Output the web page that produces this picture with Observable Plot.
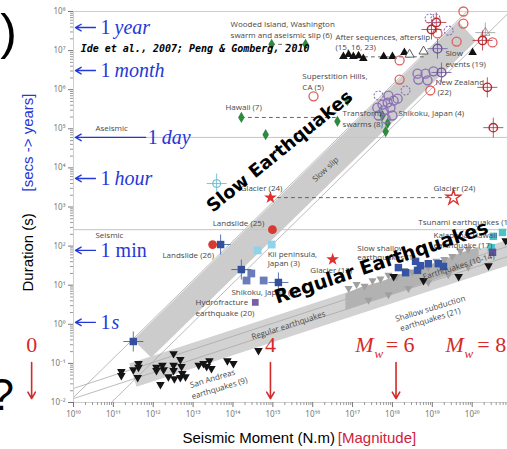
<!DOCTYPE html>
<html><head><meta charset="utf-8">
<script src="https://cdn.jsdelivr.net/npm/d3@7"></script>
<script src="https://cdn.jsdelivr.net/npm/@observablehq/plot@0.6"></script>
<style>body{margin:0;background:#fff}svg{display:block}</style>
</head><body><div id="chart"></div>
<script>
// ---------- data (log10 of seismic moment N.m, log10 of duration s) ----------
const xTickExps = [10,11,12,13,14,15,16,17,18,19,20];
const yTickExps = [-2,-1,0,1,2,3,4,5,6,7,8];
const slowBand = [[11.5,-0.4],[19.65,7.75],[20.1,7.25],[11.95,-0.85]];
const regBand = [[11.4,-1.0],[21.3,2.3],[21.3,1.64],[11.58,-1.6]];
const shallowCloud = [[16.82,0.78],[17.2,0.95],[17.7,1.08],[18.2,1.28],[18.7,1.45],[19.2,1.62],[19.71,1.83],[20.16,1.98],[20.16,1.6],[19.71,1.4],[19.2,1.2],[18.7,1.02],[18.2,0.84],[17.7,0.66],[17.2,0.5],[16.82,0.36]];
const refLines = [
  [[10,-1.87],[20.2,8.33]],
  [[10.95,-2],[20.95,8]],
  [[10,-1.64],[21,2.03]],
  [[10,-1.9],[21,1.77]]
];
const aseismicLevel = 4.78, seismicLevel = 2.42;
const blackDown = [[11.2,-1.21],[11.2,-1.31],[11.5,-1.16],[11.63,-1.0],[11.63,-1.1],[11.61,-1.36],[12.08,-1.1],[12.08,-1.18],[12.18,-1.54],[12.23,-1.05],[12.26,-1.16],[12.38,-1.34],[12.51,-0.75],[12.51,-1.05],[12.51,-1.18],[12.53,-1.39],[12.68,-0.9],[12.71,-1.08],[12.73,-1.26],[12.81,-1.34],[12.68,-1.36],[13.14,-1.05],[13.26,-1.0],[13.34,-1.08],[13.41,-0.93],[13.46,-1.13],[13.86,-0.93],[14.01,-1.0],[14.64,-0.67],[18.03,1.22],[18.78,1.12],[19.66,1.22],[20.41,1.5],[20.84,2.14]];
const grayDown = [[16.9,0.92],[17.1,1.02],[17.3,0.98],[17.5,1.12],[17.7,1.16],[17.9,1.26],[18.1,1.22],[18.3,1.38],[18.5,1.34],[18.7,1.5],[18.9,1.46],[19.1,1.62],[19.3,1.66],[19.5,1.74],[19.7,1.88],[19.9,1.92],[17.4,0.62],[17.9,0.76],[18.4,0.92],[18.9,1.08],[19.4,1.27],[19.9,1.47]];
const slowShallowSq = [[18.15,1.45],[18.33,1.32],[18.58,1.61],[18.7,1.5],[18.63,1.38],[18.9,1.55],[19.15,1.55],[19.28,1.48]];
const tsunamiSq = [[20.53,2.25],[20.76,2.35],[20.48,1.96]];
const hawaiiEqSq = [[20.51,1.84]];
const kiiSq = [[14.62,1.89],[14.97,2.04]];
const shikokuSq = [[14.46,1.3],[14.34,1.12],[14.77,1.12]];
const crossedBlueSq = [[14.21,1.4],[15.14,1.07],[13.69,2.04],[11.5,-0.44]];
const hydroSq = [[14.56,0.56]];
const landslideCirc = [[13.49,2.04],[14.99,2.42]];
const glacierStar = [[14.94,3.24],[16.5,1.66]];
const glacierOpenStar = [[19.53,3.24]];
const cyanTarget = [[13.59,3.6]];
const greenDiamond = [[14.21,5.29],[14.82,4.85],[14.97,7.16],[15.82,7.16],[16.87,5.72],[16.62,5.19],[17.75,5.34],[17.88,5.14],[17.83,4.93]];
const afterslipTri = [[16.77,6.85],[16.9,6.9],[17.02,6.85],[17.15,6.87],[17.27,6.8],[17.78,6.85],[18.0,6.85],[18.3,6.95],[20.01,6.95]];
const afterslipOpen = [[18.43,6.9],[18.78,6.98]];
const grayOpenTri = [[20.33,7.46]];
const redCirc = [[16.02,5.83],[18.18,6.75],[18.18,6.26],[18.95,5.98],[19.78,8.0],[19.78,7.69],[19.61,7.23],[19.13,7.44],[20.51,7.21]];
const redTarget = [[19.1,7.72],[18.98,7.54],[20.26,7.26],[20.38,6.06],[20.53,5.03]];
const purpleCirc = [[18.63,6.41],[18.83,6.41],[19.03,6.47],[18.65,6.26],[18.88,6.24],[17.9,5.85],[18.03,5.72],[17.88,5.67],[17.75,5.62],[17.62,5.54],[17.95,5.54],[17.78,5.47],[18.0,5.34],[17.65,5.34],[17.83,5.26],[18.13,5.77]];
const purpleTarget = [[19.13,7.05],[19.23,6.44]];
const purpleDashed = [[18.93,7.82],[19.08,7.82],[19.41,7.51],[17.65,5.85],[18.33,5.98]];
const dashedLinks = [
  [[14.21,5.29],[16.62,5.29]],
  [[14.97,7.16],[15.82,7.16]],
  [[16.77,6.84],[18.8,6.84]],
  [[14.94,3.24],[19.53,3.24]]
];
const smallLabels = [
  ["Wooded Island, Washington",13.94,7.67],["swarm and aseismic slip (6)",13.94,7.39],
  ["After sequences, afterslip",16.57,7.34],["(15, 16, 23)",16.57,7.08],
  ["Superstition Hills,",15.74,6.34],["CA (5)",15.74,6.06],
  ["Slow",19.33,6.93],["events (19)",19.33,6.64],
  ["New Zealand",19.08,6.18],["(22)",19.13,5.93],
  ["Shikoku, Japan (4)",18.15,5.39],["Transform",16.75,5.39],["swarms (8)",16.75,5.11],
  ["Hawaii (7)",13.81,5.54],["Glacier (24)",14.19,3.47],["Glacier (24)",19.03,3.47],
  ["Landslide (25)",13.49,2.58],["Landslide (26)",12.23,1.76],
  ["Kii peninsula,",14.87,1.79],["Japan (3)",14.87,1.55],["Glacier (13)",15.94,1.38],
  ["Shikoku, Japan (2)",13.96,0.81],["Hydrofracture",13.06,0.56],["earthquake (20)",13.06,0.28],
  ["Slow shallow",17.12,1.94],["earthquakes (1)",17.12,1.71],
  ["Tsunami earthquakes (19)",18.65,2.6],["Kalapana, Hawaii",19.03,2.27],["earthquake (17)",19.03,2.02],
  ["Aseismic",10.55,5.01],["Seismic",10.55,2.27]
];
const rotLabels = [
  ["Regular earthquakes",15.39,-0.03,-18],["Slow slip",16.32,3.96,-43],
  ["Shallow subduction",18.95,0.4,-17],["earthquakes (21)",18.95,0.12,-17],
  ["Earthquakes (10-14)",19.66,1.48,-17],["San Andreas",13.49,-1.39,-17],["earthquakes (9)",13.66,-1.64,-17]
];
const bigLabels = [["Slow Earthquakes",15.17,4.42,-39,18],["Regular Earthquakes",17.72,1.58,-18.5,19]];
const blueArrows = [[10.55,7.59,10.05],[10.55,6.49,10.05],[11.81,4.78,10.05],[10.55,3.73,10.05],[10.55,1.89,10.05],[10.55,0.05,10.05]];
const blueNum = [["1",10.68,7.59],["1",10.68,6.49],["1",11.86,4.78],["1",10.68,3.73],["1 min",10.68,1.89],["1",10.68,0.05]];
const blueUnit = [["year",10.68,7.59,14],["month",10.68,6.49,14],["day",11.86,4.78,14],["hour",10.68,3.73,14],["s",10.68,0.05,11]];
const redArrows = [[8.95,-0.98,-1.9],[14.94,-0.98,-1.9],[18.09,-0.98,-1.9]];
const redPlain = [["0",8.95,-0.54,"middle"],["4",14.94,-0.54,"middle"],["= 6",17.83,-0.54,"start"],["= 8",20.13,-0.54,"start"]];
const redM = [[17.07,-0.54],[19.33,-0.54]];
const redW = [[17.55,-0.54],[19.81,-0.54]];

// ---------- helpers ----------
const P = a => a.map(([m,t]) => ({x: 10 ** m, y: 10 ** t}));
const SUP = "⁻⁰¹²³⁴⁵⁶⁷⁸⁹";
const sup = s => String(s).replace(/[-0-9]/g, c => SUP["-0123456789".indexOf(c)]);
const fmt = v => "10" + sup(Math.round(Math.log10(v)));
const minor = (lo, hi) => d3.range(lo, hi).flatMap(k => d3.range(2, 10).map(j => j * 10 ** k));
const triDown = {draw(ctx, size) {
  const y = -Math.sqrt(size / (Math.sqrt(3) * 3)), s3 = Math.sqrt(3);
  ctx.moveTo(0, -2 * y); ctx.lineTo(-s3 * y, y); ctx.lineTo(s3 * y, y); ctx.closePath();
}};
const poly = pts => pts.concat([pts[0]]).map(([m,t]) => ({x: 10 ** m, y: 10 ** t}));
const lbl = a => a.map(([t,m,d,r,s]) => ({t, x: 10 ** m, y: 10 ** d, r, s}));

const BLUE = "#2438d8", RED = "#d42a2a", LG = "#474747";
const sans = "'Open Sans', sans-serif";

const marks = [
  Plot.line(poly(slowBand), {x:"x", y:"y", fill:"#cccccc", stroke:"none", clip:true}),
  Plot.line(poly(regBand), {x:"x", y:"y", fill:"#d2d2d2", stroke:"none", clip:true}),
  ...refLines.map(l => Plot.line(P(l), {x:"x", y:"y", stroke:"#a9a9a9", strokeWidth:0.8, clip:true})),
  Plot.line(poly(shallowCloud), {x:"x", y:"y", fill:"#b2b2b2", stroke:"none", clip:true}),
  Plot.ruleY([10 ** aseismicLevel, 10 ** seismicLevel], {stroke:"#c4c4c4", strokeWidth:1}),
  Plot.frame({stroke:"#cfcfcf"}),
  ...dashedLinks.map(l => Plot.line(P(l), {x:"x", y:"y", stroke:"#555", strokeWidth:0.9, strokeDasharray:"3,4"})),
  Plot.dot(P(grayDown), {x:"x", y:"y", symbol:triDown, r:3, fill:"#a0a0a0"}),
  Plot.dot(P(blackDown), {x:"x", y:"y", symbol:triDown, r:3.2, fill:"#141414"}),
  Plot.dot(P(slowShallowSq), {x:"x", y:"y", symbol:"square", r:4.2, fill:"#3554a5"}),
  Plot.dot(P(tsunamiSq), {x:"x", y:"y", symbol:"square", r:4.2, fill:"#4fc2c9"}),
  Plot.dot(P(hawaiiEqSq), {x:"x", y:"y", symbol:"square", r:4.2, fill:"#5d4f9a"}),
  Plot.dot(P(kiiSq), {x:"x", y:"y", symbol:"square", r:4.4, fill:"#8fd3ea"}),
  Plot.dot(P(shikokuSq), {x:"x", y:"y", symbol:"square", r:4.4, fill:"#6a7cba"}),
  Plot.dot(P(crossedBlueSq), {x:"x", y:"y", symbol:"square", r:4.2, fill:"#34509b"}),
  Plot.dot(P(crossedBlueSq), {x:"x", y:"y", symbol:"plus", r:6.5, stroke:"#34509b", strokeWidth:0.8}),
  Plot.dot(P(hydroSq), {x:"x", y:"y", symbol:"square", r:3.8, fill:"#7a5ea8"}),
  Plot.dot(P(landslideCirc), {x:"x", y:"y", r:4.4, fill:"#d63a30"}),
  Plot.dot(P(glacierStar), {x:"x", y:"y", symbol:"star", r:4, fill:"#e0302e"}),
  Plot.dot(P(glacierOpenStar), {x:"x", y:"y", symbol:"star", r:4.6, fill:"white", stroke:"#e0302e", strokeWidth:1.4}),
  Plot.dot(P(cyanTarget), {x:"x", y:"y", r:4, fill:"none", stroke:"#5ab6c6", strokeWidth:1}),
  Plot.dot(P(cyanTarget), {x:"x", y:"y", symbol:"plus", r:6.5, stroke:"#5ab6c6", strokeWidth:0.8}),
  Plot.dot(P(greenDiamond), {x:"x", y:"y", symbol:"diamond", r:3.4, fill:"#2e8a3e"}),
  Plot.dot(P(afterslipTri), {x:"x", y:"y", symbol:"triangle", r:3.2, fill:"#111"}),
  Plot.dot(P(afterslipOpen), {x:"x", y:"y", symbol:"triangle", r:3.4, fill:"white", stroke:"#333", strokeWidth:0.8}),
  Plot.dot(P(grayOpenTri), {x:"x", y:"y", symbol:"triangle", r:3.4, fill:"none", stroke:"#888", strokeWidth:0.8}),
  Plot.dot(P(grayOpenTri), {x:"x", y:"y", symbol:"plus", r:6.5, stroke:"#888", strokeWidth:0.7}),
  Plot.dot(P(redCirc), {x:"x", y:"y", r:4.5, fill:"none", stroke:"#e0605c", strokeWidth:1.3}),
  Plot.dot(P(redTarget), {x:"x", y:"y", r:4.2, fill:"none", stroke:"#b8262e", strokeWidth:1.4}),
  Plot.dot(P(redTarget), {x:"x", y:"y", symbol:"plus", r:6.5, stroke:"#b8262e", strokeWidth:0.8}),
  Plot.dot(P(purpleCirc), {x:"x", y:"y", r:4.5, fill:"none", stroke:"#8a6fb6", strokeWidth:1.3}),
  Plot.dot(P(purpleTarget), {x:"x", y:"y", r:4.4, fill:"none", stroke:"#6f559e", strokeWidth:1.4}),
  Plot.dot(P(purpleTarget), {x:"x", y:"y", symbol:"plus", r:6.5, stroke:"#6f559e", strokeWidth:0.8}),
  Plot.dot(P(purpleDashed), {x:"x", y:"y", r:4.5, fill:"none", stroke:"#8a6fb6", strokeWidth:1.1, strokeDasharray:"2,1.5"}),
  Plot.text(lbl(smallLabels), {x:"x", y:"y", text:"t", textAnchor:"start", fontSize:8, fill:LG, fontFamily:sans}),
  Plot.text(lbl(rotLabels), {x:"x", y:"y", text:"t", rotate:d => d.r, fontSize:8, fill:LG, fontFamily:sans}),
  ...lbl(bigLabels).map(d => Plot.text([d], {x:"x", y:"y", text:"t", rotate:d.r, fontSize:d.s, fontWeight:"bold", fill:"#000", fontFamily:"'DejaVu Sans', sans-serif"})),
  Plot.text([{t:"Ide et al., 2007; Peng & Gomberg, 2010", x:10 ** 10.18, y:10 ** 7.05}], {x:"x", y:"y", text:"t", textAnchor:"start", fontSize:10, fontWeight:"bold", fontStyle:"italic", fontFamily:"'DejaVu Sans Mono', monospace", fill:"#000"}),
  // blue time annotations
  Plot.arrow(blueArrows.map(([a,t,b]) => ({x1:10 ** a, x2:10 ** b, y:10 ** t})), {x1:"x1", x2:"x2", y1:"y", y2:"y", stroke:BLUE, strokeWidth:1.4, headLength:7}),
  Plot.text(lbl(blueNum), {x:"x", y:"y", text:"t", textAnchor:"start", fontSize:20, fill:BLUE, fontFamily:"'Liberation Serif', serif"}),
  ...blueUnit.map(([t,m,d,dx]) => Plot.text([{t, x:10 ** m, y:10 ** d}], {x:"x", y:"y", text:"t", dx, textAnchor:"start", fontSize:20, fontStyle:"italic", fill:BLUE, fontFamily:"'Liberation Serif', serif"})),
  // red magnitude annotations
  Plot.arrow(redArrows.map(([m,a,b]) => ({x:10 ** m, y1:10 ** a, y2:10 ** b})), {x1:"x", x2:"x", y1:"y1", y2:"y2", stroke:RED, strokeWidth:1.6, headLength:7}),
  ...redPlain.map(([t,m,d,a]) => Plot.text([{t, x:10 ** m, y:10 ** d}], {x:"x", y:"y", text:"t", textAnchor:a, fontSize:22, fill:RED, fontFamily:"'Liberation Serif', serif"})),
  Plot.text(P(redM), {x:"x", y:"y", text:() => "M", textAnchor:"start", fontSize:22, fontStyle:"italic", fill:RED, fontFamily:"'Liberation Serif', serif"}),
  Plot.text(P(redW), {x:"x", y:"y", text:() => "w", dy:8, textAnchor:"start", fontSize:13, fontStyle:"italic", fill:RED, fontFamily:"'Liberation Serif', serif"}),
  // axis titles
  Plot.text([{x:10 ** 8.87, y:10 ** 1.84}], {x:"x", y:"y", text:() => "Duration (s)", rotate:-90, fontSize:15, fill:"#000", fontFamily:"'Liberation Sans', sans-serif"}),
  Plot.text([{x:10 ** 8.87, y:10 ** 4.65}], {x:"x", y:"y", text:() => "[secs -> years]", rotate:-90, fontSize:15, fill:BLUE, fontFamily:"'Liberation Sans', sans-serif"}),
  Plot.text([{x:10 ** 16.56, y:10 ** -2.9}], {x:"x", y:"y", text:() => "Seismic Moment (N.m)", textAnchor:"end", fontSize:15, fill:"#000", fontFamily:"'Liberation Sans', sans-serif"}),
  Plot.text([{x:10 ** 16.63, y:10 ** -2.9}], {x:"x", y:"y", text:() => "[Magnitude]", textAnchor:"start", fontSize:15, fill:"#d0213a", fontFamily:"'Liberation Sans', sans-serif"}),
  // cut-off glyphs at the left edge
  Plot.text([{x:10 ** 8.37, y:10 ** 7.45}], {x:"x", y:"y", text:() => ")", fontSize:50, fill:"#000", fontFamily:"'Liberation Sans', sans-serif"}),
  Plot.text([{x:10 ** 8.2, y:10 ** -1.82}], {x:"x", y:"y", text:() => "?", fontSize:44, fill:"#000", fontFamily:"'Liberation Sans', sans-serif"}),
  // axes
  Plot.axisY(yTickExps.map(e => 10 ** e), {anchor:"left", tickSize:5, tickPadding:3, tickFormat:fmt, fontSize:8, color:"#777", label:null}),
  Plot.axisY(minor(-2, 8), {anchor:"left", tickSize:3, tickFormat:() => "", color:"#999", label:null}),
  Plot.axisX(xTickExps.map(e => 10 ** e), {anchor:"bottom", tickSize:5, tickPadding:4, tickFormat:fmt, fontSize:8, color:"#777", label:null}),
  Plot.axisX(minor(10, 21).filter(v => v < 10 ** 20.886), {anchor:"bottom", tickSize:3, tickFormat:() => "", color:"#999", label:null})
];

const chart = Plot.plot({
  width: 507, height: 449,
  marginLeft: 73, marginRight: 0, marginTop: 11, marginBottom: 47,
  style: {background: "#fff", overflow: "visible"},
  x: {type: "log", domain: [1e10, 10 ** 20.886]},
  y: {type: "log", domain: [1e-2, 1e8]},
  marks
});
document.getElementById("chart").appendChild(chart);
</script></body></html>
